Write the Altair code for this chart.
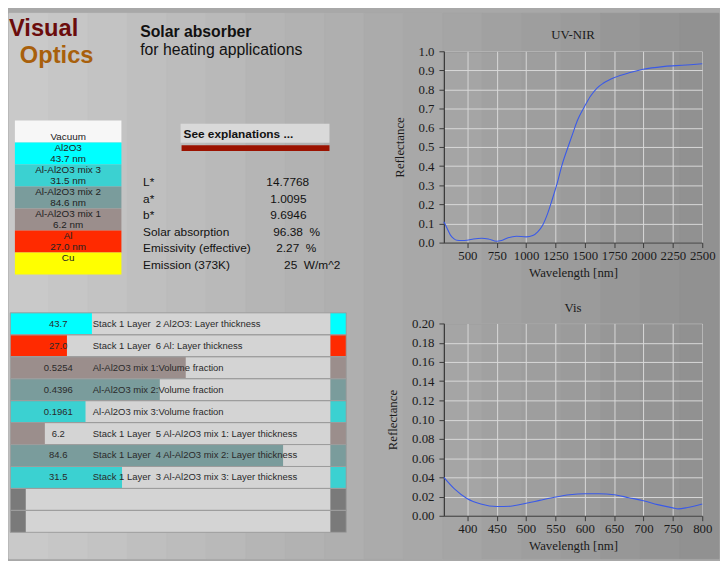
import altair as alt
import pandas as pd

SANS = "Liberation Sans"
SERIF = "Liberation Serif"

# ---------------- spectra ----------------
uv_wavelength = [300, 328, 356, 384, 412, 450, 496, 552, 622, 679, 749, 791, 847, 917,
                 1001, 1057, 1099, 1141, 1184, 1226, 1260, 1310, 1360, 1400, 1436, 1492,
                 1548, 1604, 1660, 1753, 1885, 1997, 2165, 2278, 2400, 2500]
uv_reflectance = [0.109, 0.074, 0.039, 0.021, 0.012, 0.011, 0.012, 0.019, 0.023, 0.019,
                  0.007, 0.011, 0.025, 0.033, 0.030, 0.037, 0.056, 0.091, 0.153, 0.232,
                  0.300, 0.414, 0.505, 0.575, 0.637, 0.705, 0.765, 0.808, 0.834, 0.863,
                  0.889, 0.906, 0.920, 0.925, 0.930, 0.935]

vis_wavelength = [360, 378, 400, 423, 450, 473, 500, 523, 550, 574, 600, 624, 650, 675,
                  700, 724, 750, 759, 775, 800]
vis_reflectance = [0.040, 0.028, 0.0178, 0.0123, 0.0096, 0.0099, 0.0130, 0.0160, 0.0195,
                   0.0219, 0.0229, 0.0229, 0.0219, 0.0188, 0.0157, 0.0116, 0.0082, 0.0072,
                   0.0086, 0.0123]

uv_x_ticks = [500, 750, 1000, 1250, 1500, 1750, 2000, 2250, 2500]
uv_y_ticks = [0.0, 0.1, 0.2, 0.3, 0.4, 0.5, 0.6, 0.7, 0.8, 0.9, 1.0]
vis_x_ticks = [400, 450, 500, 550, 600, 650, 700, 750, 800]
vis_y_ticks = [0.00, 0.02, 0.04, 0.06, 0.08, 0.10, 0.12, 0.14, 0.16, 0.18, 0.20]

# ---------------- layer stack ----------------
stack_names = ["Vacuum", "Al2O3", "Al-Al2O3 mix 3", "Al-Al2O3 mix 2", "Al-Al2O3 mix 1", "Al", "Cu"]
stack_lines = [["", "Vacuum"], ["Al2O3", "43.7 nm"], ["Al-Al2O3 mix 3", "31.5 nm"],
               ["Al-Al2O3 mix 2", "84.6 nm"], ["Al-Al2O3 mix 1", "6.2 nm"],
               ["Al", "27.0 nm"], ["Cu", ""]]
stack_colors = ["#f7f7f7", "#00ffff", "#3bd1d1", "#7a9c9c", "#9b8e8c", "#ff2a00", "#ffff00"]

# ---------------- results ----------------
NB = "\u00a0"
stat_names = ["L*", "a*", "b*", "Solar absorption", "Emissivity (effective)", "Emission (373K)"]
stat_values = ["14.7768", "1.0095", "9.6946", "96.38" + NB * 2 + "%",
               "2.27" + NB * 2 + "%", "25" + NB * 2 + "W/m^2"]
stat_value_left = [269, 273, 273, 276, 279, 287]   # left edge of each value text (layout)

# ---------------- parameter sliders ----------------
param_values = ["43.7", "27.0", "0.5254", "0.4396", "0.1961", "6.2", "84.6", "31.5", "", ""]
param_labels = ["Stack 1 Layer  2 Al2O3: Layer thickness",
                "Stack 1 Layer  6 Al: Layer thickness",
                "Al-Al2O3 mix 1:Volume fraction",
                "Al-Al2O3 mix 2:Volume fraction",
                "Al-Al2O3 mix 3:Volume fraction",
                "Stack 1 Layer  5 Al-Al2O3 mix 1: Layer thickness",
                "Stack 1 Layer  4 Al-Al2O3 mix 2: Layer thickness",
                "Stack 1 Layer  3 Al-Al2O3 mix 3: Layer thickness", "", ""]
param_slider = [0.255, 0.177, 0.548, 0.467, 0.235, 0.108, 0.852, 0.349, 0.0, 0.0]
param_colors = ["#00ffff", "#ff2a00", "#9b8e8c", "#7a9c9c", "#3bd1d1", "#9b8e8c", "#7a9c9c",
                "#3bd1d1", "#7a7a7a", "#7a7a7a"]

stripe_colors = ["#c9c9c9", "#c6c6c6", "#c3c3c3", "#bfbfbf", "#bcbcbc", "#b9b9b9", "#b5b5b5",
                 "#b2b2b2", "#afafaf", "#ababab", "#a8a8a8", "#a5a5a5", "#a1a1a1", "#9e9e9e",
                 "#9b9b9b", "#979797", "#949494", "#919191"]

# ---------------- layout helpers (reference pixel -> left panel pixel) ----------------
OX, OY = 8, 46.5


def px(x):
    return x - OX


def py(y):
    return y - OY


one = pd.DataFrame({"k": [0]})


def txt(s, x, y, size, color="#111111", weight="normal", align="left", baseline="alphabetic"):
    return alt.Chart(one).mark_text(align=align, baseline=baseline, font=SANS, fontSize=size,
                                    fontWeight=weight, color=color).encode(
        x=alt.value(px(x)), y=alt.value(py(y)), text=alt.value(s))


def box(x1, x2, y1, y2, color):
    return alt.Chart(one).mark_rect(color=color).encode(
        x=alt.value(px(x1)), x2=alt.value(px(x2)), y=alt.value(py(y1)), y2=alt.value(py(y2)))


# background stripes
stripe_df = pd.DataFrame({"i": list(range(len(stripe_colors))), "c": stripe_colors})
stripes = alt.Chart(stripe_df).mark_rect().encode(
    x=alt.X("i:O", scale=alt.Scale(range=[0, 720], paddingInner=0, paddingOuter=0), axis=None),
    y=alt.value(py(8)), y2=alt.value(py(561)),
    color=alt.Color("c:N", scale=None), stroke=alt.Stroke("c:N", scale=None))

# stack diagram
stack_df = pd.DataFrame({"name": stack_names, "lines": stack_lines, "c": stack_colors})
stack_y = alt.Scale(domain=stack_names, range=[py(116.8), py(272.9)], paddingInner=0, paddingOuter=0)
stack_rect = alt.Chart(stack_df).mark_rect().encode(
    y=alt.Y("name:N", scale=stack_y, axis=None),
    x=alt.value(px(14)), x2=alt.value(px(122)),
    color=alt.Color("c:N", scale=None))
stack_text = alt.Chart(stack_df).mark_text(font=SANS, fontSize=10, lineHeight=11, baseline="middle",
                                           align="center", color="#222222", dy=-5.5).encode(
    y=alt.Y("name:N", scale=stack_y, axis=None),
    x=alt.value(px(68)), text="lines:N")

# statistics
stat_df = pd.DataFrame({"name": stat_names, "value": stat_values})
stat_y = alt.Scale(type="point", domain=stat_names, range=[py(179.3), py(263.3)], padding=0)
stat_lab = alt.Chart(stat_df).mark_text(font=SANS, fontSize=12, align="left", baseline="middle",
                                        color="#111111").encode(
    y=alt.Y("name:N", scale=stat_y, axis=None), x=alt.value(px(144)), text="name:N")
stat_vals = [
    alt.Chart(stat_df).transform_filter(alt.datum.name == n).mark_text(
        font=SANS, fontSize=12, align="left", baseline="middle", color="#111111").encode(
        y=alt.Y("name:N", scale=stat_y, axis=None), x=alt.value(px(xl)), text="value:N")
    for n, xl in zip(stat_names, stat_value_left)
]

# sliders
rid = list(range(len(param_values)))
param_df = pd.DataFrame({"rid": rid, "value": param_values,
                         "label": [s.replace("  ", NB + NB) for s in param_labels],
                         "frac": param_slider, "c": param_colors,
                         "empty": [v == "" for v in param_values]})
row_y = alt.Scale(domain=rid, range=[py(311.7), py(534.3)], paddingInner=0, paddingOuter=0)
row_bg = alt.Chart(param_df).mark_rect(color="#d4d4d4").encode(
    y=alt.Y("rid:O", scale=row_y, axis=None), x=alt.value(px(9.3)), x2=alt.value(px(334)))
row_fill = alt.Chart(param_df).transform_filter("!datum.empty").transform_calculate(x0="0").mark_rect().encode(
    y=alt.Y("rid:O", scale=row_y, axis=None),
    x=alt.X("x0:Q", scale=alt.Scale(domain=[0, 1], range=[px(9.3), px(334)]), axis=None),
    x2="frac:Q",
    color=alt.Color("c:N", scale=None))
row_edge = alt.Chart(param_df).mark_rect().encode(
    y=alt.Y("rid:O", scale=row_y, axis=None), x=alt.value(px(334)), x2=alt.value(px(350)),
    color=alt.Color("c:N", scale=None))
row_strip = alt.Chart(param_df).transform_filter("datum.empty").mark_rect().encode(
    y=alt.Y("rid:O", scale=row_y, axis=None), x=alt.value(px(9.3)), x2=alt.value(px(25)),
    color=alt.Color("c:N", scale=None))
row_line = alt.Chart(param_df).mark_rect(fillOpacity=0, stroke="#9c9c9c", strokeWidth=1).encode(
    y=alt.Y("rid:O", scale=row_y, axis=None), x=alt.value(px(9.3)), x2=alt.value(px(350)))
row_val = alt.Chart(param_df).mark_text(font=SANS, fontSize=9.6, align="center", baseline="middle",
                                        color="#2a2a2a").encode(
    y=alt.Y("rid:O", scale=row_y, axis=None), x=alt.value(px(58)), text="value:N")
row_lab = alt.Chart(param_df).mark_text(font=SANS, fontSize=9.6, align="left", baseline="middle",
                                        color="#2a2a2a").encode(
    y=alt.Y("rid:O", scale=row_y, axis=None), x=alt.value(px(93)), text="label:N")

left = alt.layer(
    stripes,
    txt("Visual", 8, 31, 24, color="#6b0c0c", weight="bold"),
    txt("Optics", 19, 58, 24, color="#a8600c", weight="bold"),
    txt("Solar absorber", 141, 32, 16, color="#111111", weight="bold"),
    txt("for heating applications", 141, 50.5, 16, color="#111111"),
    stack_rect, stack_text,
    box(182, 333, 120, 139.3, "#d9d9d9"),
    box(183, 333, 141.7, 147.5, "#9b1200"),
    txt("See explanations ...", 185, 130, 12, color="#111111", weight="bold", baseline="middle"),
    stat_lab, *stat_vals,
    row_bg, row_fill, row_edge, row_strip, row_line, row_val, row_lab,
).resolve_scale(x="independent", y="independent").properties(width=360, height=470)


def spectrum(wl, r, title, xdom, xticks, ydom, yticks, yfmt, h):
    df = pd.DataFrame({"wl": wl, "r": r})
    return alt.Chart(df).mark_line(color="#3a5ae8", strokeWidth=1.1, interpolate="monotone").encode(
        x=alt.X("wl:Q", scale=alt.Scale(domain=xdom, nice=False, zero=False),
                axis=alt.Axis(values=xticks, format="d", title="Wavelength [nm]")),
        y=alt.Y("r:Q", scale=alt.Scale(domain=ydom, nice=False, zero=False),
                axis=alt.Axis(values=yticks, format=yfmt, title="Reflectance")),
    ).properties(
        width=262, height=h,
        title=alt.TitleParams(title, font=SERIF, fontSize=13, fontWeight="normal",
                              color="#1a1a1a", offset=3),
        view=alt.ViewBackground(stroke="#3a3a3a", strokeWidth=1),
    )


uv = spectrum(uv_wavelength, uv_reflectance, "UV-NIR", [300, 2500], uv_x_ticks, [0, 1.0],
              uv_y_ticks, ".1f", 194)
vis = spectrum(vis_wavelength, vis_reflectance, "Vis", [360, 800], vis_x_ticks, [0, 0.20],
               vis_y_ticks, ".2f", 195)

right = alt.vconcat(uv, vis, spacing=82, bounds="flush")

chart = alt.hconcat(left, right, spacing=81, bounds="flush").properties(
    padding=0, background="#a8a8a8"
).configure_view(stroke="transparent").configure_axis(
    grid=True, gridColor="#d8d8d8", gridOpacity=1, gridWidth=1,
    domainColor="#3a3a3a", tickColor="#3a3a3a", tickSize=5,
    labelFont=SERIF, labelFontSize=13, labelColor="#1a1a1a",
    titleFont=SERIF, titleFontSize=13, titleFontWeight="normal", titleColor="#1a1a1a",
    labelFlush=False, labelOverlap=False,
).configure_axisX(labelPadding=2, titlePadding=4).configure_axisY(labelPadding=5, titlePadding=12)

chart.save("out.html", embed_options={"renderer": "svg", "actions": False})
